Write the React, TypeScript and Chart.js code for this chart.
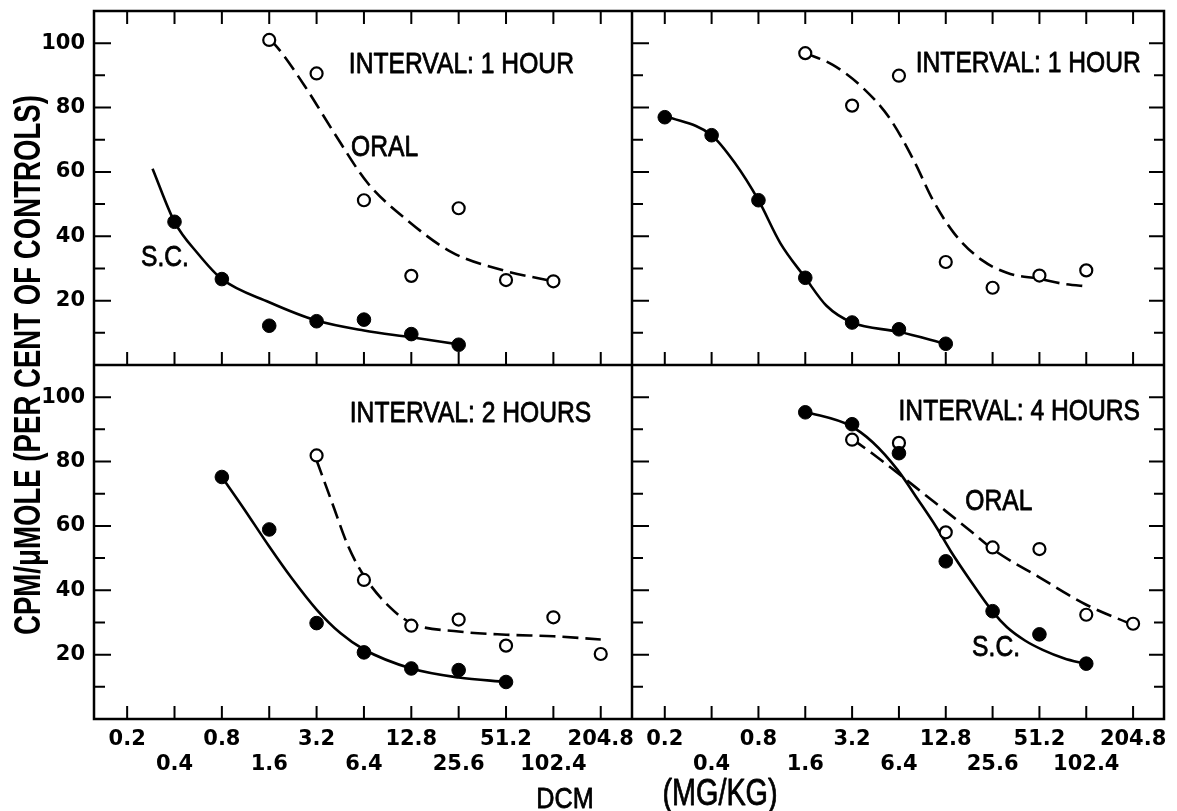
import React, { useEffect, useRef } from 'react';
import { Chart, registerables } from 'chart.js';

Chart.register(...registerables);

// ---------- axis ticks ----------
const DOSE_TICKS = [0.2, 0.4, 0.8, 1.6, 3.2, 6.4, 12.8, 25.6, 51.2, 102.4, 204.8];
const DOSE_LABELS = ['0.2', '0.4', '0.8', '1.6', '3.2', '6.4', '12.8', '25.6', '51.2', '102.4', '204.8'];
const Y_TICKS = [10, 20, 30, 40, 50, 60, 70, 80, 90, 100];
const Y_LABELED = [20, 40, 60, 80, 100];

// ---------- panel A: top-left, interval 1 hour ----------
const doseA_sc = [0.4, 0.8, 1.6, 3.2, 6.4, 12.8, 25.6];
const valA_sc = [44.5, 26.7, 12.2, 13.6, 14.1, 9.6, 6.3];
const doseA_oral = [1.6, 3.2, 6.4, 12.8, 25.6, 51.2, 102.4];
const valA_oral = [101, 90.6, 51.2, 27.7, 48.7, 26.4, 26.0];
const curveDoseA_sc = [0.29, 0.4, 0.566, 0.8, 1.6, 3.2, 6.4, 12.8, 25.6];
const curveValA_sc = [61, 44.5, 34.5, 26.7, 19.5, 13.8, 10.7, 8.6, 6.4];
const curveDoseA_oral = [1.6, 1.727, 2.69, 4.19, 6.72, 12.19, 23.2, 50.1, 102.4];
const curveValA_oral = [101, 99.7, 86.7, 71.7, 56.7, 44.8, 35.0, 29.3, 26.0];

// ---------- panel B: top-right, interval 1 hour ----------
const doseB_sc = [0.2, 0.4, 0.8, 1.6, 3.2, 6.4, 12.8];
const valB_sc = [77, 71.4, 51.2, 27.1, 13.2, 11.1, 6.6];
const doseB_oral = [1.6, 3.2, 6.4, 12.8, 25.6, 51.2, 102.4];
const valB_oral = [96.9, 80.6, 89.9, 32, 24, 27.8, 29.4];
const curveDoseB_sc = [0.2, 0.4, 0.562, 0.8, 1.108, 1.6, 2.19, 3.2, 6.4, 12.8];
const curveValB_sc = [77.5, 71.4, 62.9, 51.2, 37.8, 27.1, 18.4, 13.2, 10.3, 6.6];
const curveDoseB_oral = [1.6, 2.42, 3.7, 5.61, 8.1, 10.54, 14.5, 22.0, 33.3, 50.9, 73.4, 106];
const curveValB_oral = [96.9, 93.2, 86.4, 76.5, 62.9, 51.4, 40.9, 32.5, 28.3, 26.8, 25.2, 24.4];

// ---------- panel C: bottom-left, interval 2 hours ----------
const doseC_sc = [0.8, 1.6, 3.2, 6.4, 12.8, 25.6, 51.2];
const valC_sc = [75.2, 58.9, 29.8, 20.7, 15.7, 15.2, 11.5];
const doseC_oral = [3.2, 6.4, 12.8, 25.6, 51.2, 102.4, 204.8];
const valC_oral = [81.9, 43.2, 29, 30.9, 22.8, 31.6, 20.2];
const curveDoseC_sc = [0.8, 1.085, 1.6, 2.22, 3.2, 4.53, 6.4, 12.8, 25.6, 51.2];
const curveValC_sc = [75.2, 65.9, 53.6, 43.8, 34, 26.7, 21.6, 15.7, 12.9, 11.5];
const curveDoseC_oral = [3.2, 4.03, 5.09, 6.44, 9.24, 12.8, 25.6, 51.2, 102.4, 204.8];
const curveValC_oral = [80.4, 67.0, 53.6, 44.3, 35.0, 29.8, 27.2, 26.2, 25.7, 24.7];

// ---------- panel D: bottom-right, interval 4 hours ----------
const doseD_sc = [1.6, 3.2, 6.4, 12.8, 25.6, 51.2, 102.4];
const valD_sc = [95.3, 91.6, 82.6, 49, 33.5, 26.3, 17.2];
const doseD_oral = [3.2, 6.4, 12.8, 25.6, 51.2, 102.4, 204.8];
const valD_oral = [86.8, 85.8, 58, 53.3, 52.8, 32.4, 29.6];
const curveDoseD_sc = [1.6, 3.09, 4.34, 6.27, 8.56, 11.14, 13.72, 17.85, 25.8, 31.7, 41.3, 53.7, 73.4, 102.4];
const curveValD_sc = [95.5, 91.2, 86.0, 77.4, 67.9, 59.6, 52.3, 44.0, 33.2, 28.5, 24.4, 21.5, 18.9, 17.0];
const curveDoseD_oral = [3.2, 4.34, 6.62, 9.5, 12.8, 18.9, 25.6, 51.2, 102.4, 204.8];
const curveValD_oral = [87, 82.4, 75.6, 69.5, 64.6, 58, 52.8, 44, 35.5, 29.2];

// ---------- in-panel labels ----------
const NOTE_TEXT = ['INTERVAL: 1 HOUR', 'ORAL', 'S.C.', 'INTERVAL: 1 HOUR', 'INTERVAL: 2 HOURS', 'INTERVAL: 4 HOURS', 'ORAL', 'S.C.'];
const NOTE_PANEL = ['A', 'A', 'A', 'B', 'C', 'D', 'D', 'D'];
const NOTE_DOSE = [5.13, 5.3, 0.245, 8.2, 5.2, 6.36, 17.1, 18.9];
const NOTE_VALUE = [93.2, 67.4, 33.4, 93.5, 94.8, 95.5, 67.3, 22.1];

const Y_TITLE = 'CPM/\u03bcMOLE (PER CENT OF CONTROLS)';
const X_TITLE_LEFT = 'DCM';
const X_TITLE_RIGHT = '(MG/KG)';

const PANEL_AXES: Record<string, [string, string]> = {
  A: ['xL', 'yT'],
  B: ['xR', 'yT'],
  C: ['xL', 'yB'],
  D: ['xR', 'yB'],
};

const SANS = '"Liberation Sans", Arial, sans-serif';

function pts(d: number[], v: number[]) {
  return d.map((x, i) => ({ x, y: v[i] }));
}

function scDots(panel: string, d: number[], v: number[]) {
  const [xa, ya] = PANEL_AXES[panel];
  return {
    data: pts(d, v), xAxisID: xa, yAxisID: ya, showLine: false, order: 0,
    pointRadius: 6.8, pointBackgroundColor: '#000', pointBorderColor: '#000', pointBorderWidth: 1,
  };
}
function oralDots(panel: string, d: number[], v: number[]) {
  const [xa, ya] = PANEL_AXES[panel];
  return {
    data: pts(d, v), xAxisID: xa, yAxisID: ya, showLine: false, order: 0,
    pointRadius: 6, pointBackgroundColor: '#fff', pointBorderColor: '#000', pointBorderWidth: 2.2,
  };
}
function curve(panel: string, d: number[], v: number[], dashed: boolean) {
  const [xa, ya] = PANEL_AXES[panel];
  return {
    data: pts(d, v), xAxisID: xa, yAxisID: ya, showLine: true, order: 1,
    pointRadius: 0, borderColor: '#000', borderWidth: 2.6,
    borderDash: dashed ? [16, 7] : [], cubicInterpolationMode: 'monotone',
  };
}

function condensed(ctx: CanvasRenderingContext2D, text: string, x: number, y: number, size: number, sx: number, align: CanvasTextAlign, baseline: CanvasTextBaseline, weight = 'normal', rot = 0, thicken = 0.8) {
  ctx.save();
  ctx.translate(x, y);
  if (rot) ctx.rotate(rot);
  ctx.scale(sx, 1);
  ctx.font = `${weight} ${size}px ${SANS}`;
  ctx.textAlign = align;
  ctx.textBaseline = baseline;
  ctx.fillStyle = '#000';
  ctx.strokeStyle = '#000';
  ctx.lineWidth = thicken;
  ctx.lineJoin = 'round';
  ctx.fillText(text, 0, 0);
  if (thicken > 0) ctx.strokeText(text, 0, 0);
  ctx.restore();
}

const framePlugin = {
  id: 'framePlugin',
  afterDraw(chart: any) {
    const { ctx, chartArea: a, scales } = chart;
    const xL = scales.xL, xR = scales.xR, yT = scales.yT, yB = scales.yB;
    ctx.save();
    ctx.strokeStyle = '#000';
    ctx.lineWidth = 2.5;
    ctx.strokeRect(a.left, a.top, a.right - a.left, a.bottom - a.top);
    ctx.beginPath();
    ctx.moveTo(xL.right, a.top); ctx.lineTo(xL.right, a.bottom);
    ctx.moveTo(a.left, yT.bottom); ctx.lineTo(a.right, yT.bottom);
    ctx.stroke();

    ctx.lineWidth = 2;
    ctx.beginPath();
    for (const xs of [xL, xR]) {
      for (const d of DOSE_TICKS) {
        const px = xs.getPixelForValue(d);
        ctx.moveTo(px, a.top); ctx.lineTo(px, a.top + 13);
        ctx.moveTo(px, yT.bottom); ctx.lineTo(px, yT.bottom - 13);
        ctx.moveTo(px, a.bottom); ctx.lineTo(px, a.bottom - 13);
      }
    }
    for (const ys of [yT, yB]) {
      for (const v of Y_TICKS) {
        const py = ys.getPixelForValue(v);
        const major = Y_LABELED.includes(v);
        const l1 = major ? 17 : 11;
        const l2 = major ? 15 : 10;
        ctx.moveTo(a.left, py); ctx.lineTo(a.left + l1, py);
        ctx.moveTo(xL.right, py); ctx.lineTo(xL.right + l1, py);
        ctx.moveTo(a.right, py); ctx.lineTo(a.right - l2, py);
      }
    }
    ctx.stroke();

    // in-panel annotations
    NOTE_TEXT.forEach((t, i) => {
      const [xa, ya] = PANEL_AXES[NOTE_PANEL[i]];
      const px = scales[xa].getPixelForValue(NOTE_DOSE[i]);
      const py = scales[ya].getPixelForValue(NOTE_VALUE[i]);
      condensed(ctx, t, px, py, 29, 0.85, 'left', 'middle');
    });

    // axis titles
    const midY = (a.top + a.bottom) / 2;
    condensed(ctx, Y_TITLE, 30, midY, 36, 0.767, 'center', 'middle', 'bold', -Math.PI / 2, 0);
    condensed(ctx, X_TITLE_LEFT, xL.right - 67, 808, 30, 0.84, 'center', 'alphabetic');
    condensed(ctx, X_TITLE_RIGHT, xL.right + 88, 805, 36, 0.8, 'center', 'alphabetic');
    ctx.restore();
  },
};

const X_MIN = DOSE_TICKS[0] * Math.pow(2, -0.7);
const X_MAX = DOSE_TICKS[DOSE_TICKS.length - 1] * Math.pow(2, 0.66);

function xScale(weight: number) {
  return {
    type: 'logarithmic', axis: 'x', position: 'bottom', stack: 'xs', stackWeight: weight,
    min: X_MIN, max: X_MAX,
    afterBuildTicks: (s: any) => { s.ticks = DOSE_TICKS.map((v) => ({ value: v })); },
    afterFit: (s: any) => { s.height = 92; s.paddingLeft = 0; s.paddingRight = 0; },
    grid: { display: false, drawTicks: false },
    border: { display: false },
    ticks: {
      autoSkip: false, maxRotation: 0, minRotation: 0, padding: 8, color: '#000',
      font: { family: '"DejaVu Sans", sans-serif', weight: 'bold', size: 21, lineHeight: 1.2 },
      callback: (_v: any, i: number) => (i % 2 === 0 ? DOSE_LABELS[i] : ['', DOSE_LABELS[i]]),
    },
  };
}
function yScale() {
  return {
    type: 'linear', axis: 'y', position: 'left', stack: 'ys', stackWeight: 1,
    min: 0, max: 110,
    afterFit: (s: any) => { s.width = 94; s.paddingTop = 0; s.paddingBottom = 0; },
    grid: { display: false, drawTicks: false },
    border: { display: false },
    ticks: {
      stepSize: 10, autoSkip: false, padding: 9, color: '#000',
      font: { family: '"DejaVu Sans", sans-serif', weight: 'bold', size: 21 },
      callback: (v: any) => (Y_LABELED.includes(Number(v)) ? String(v) : ''),
    },
  };
}

export default function App() {
  const ref = useRef<HTMLCanvasElement | null>(null);
  useEffect(() => {
    if (!ref.current) return;
    const chart = new Chart(ref.current, {
      type: 'scatter',
      data: {
        datasets: [
          scDots('A', doseA_sc, valA_sc), oralDots('A', doseA_oral, valA_oral),
          scDots('B', doseB_sc, valB_sc), oralDots('B', doseB_oral, valB_oral),
          scDots('C', doseC_sc, valC_sc), oralDots('C', doseC_oral, valC_oral),
          scDots('D', doseD_sc, valD_sc), oralDots('D', doseD_oral, valD_oral),
          curve('A', curveDoseA_sc, curveValA_sc, false), curve('A', curveDoseA_oral, curveValA_oral, true),
          curve('B', curveDoseB_sc, curveValB_sc, false), curve('B', curveDoseB_oral, curveValB_oral, true),
          curve('C', curveDoseC_sc, curveValC_sc, false), curve('C', curveDoseC_oral, curveValC_oral, true),
          curve('D', curveDoseD_sc, curveValD_sc, false), curve('D', curveDoseD_oral, curveValD_oral, true),
        ] as any,
      },
      options: {
        animation: false,
        responsive: false,
        events: [],
        layout: { padding: { top: 11, right: 13, left: 0, bottom: 0 } },
        plugins: { legend: { display: false }, tooltip: { enabled: false } },
        scales: {
          xL: xScale(538),
          xR: xScale(532),
          yB: yScale(),
          yT: yScale(),
        } as any,
      },
      plugins: [framePlugin],
    });
    return () => chart.destroy();
  }, []);
  return (
    <div style={{ position: 'absolute', left: 0, top: 0, width: 1177, height: 811, background: '#fff' }}>
      <canvas ref={ref} width={1177} height={811} style={{ display: 'block' }} />
    </div>
  );
}
